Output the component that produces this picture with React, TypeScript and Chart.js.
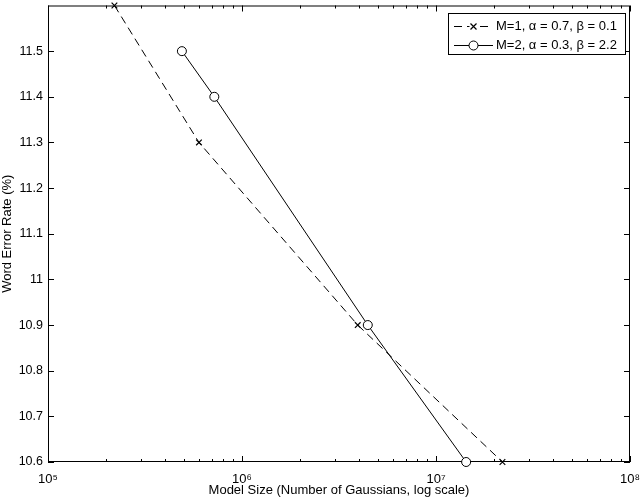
import React, { useEffect, useRef } from 'react';
import { Chart, registerables } from 'chart.js';

Chart.register(...registerables);

const seriesLabels = ['M=1, α = 0.7, β = 0.1', 'M=2, α = 0.3, β = 2.2'];
const m1Sizes = [2.2e5, 6.0e5, 3.95e6, 2.2e7];
const m1Wer = [11.6, 11.3, 10.9, 10.6];
const m2Sizes = [4.9e5, 7.2e5, 4.45e6, 1.43e7];
const m2Wer = [11.5, 11.4, 10.9, 10.6];
const xMajorTicks = [1e5, 1e6, 1e7, 1e8];
const xTickLabels = ['10⁵', '10⁶', '10⁷', '10⁸'];
const yTicks = [10.6, 10.7, 10.8, 10.9, 11.0, 11.1, 11.2, 11.3, 11.4, 11.5];
const yTickLabels = ['10.6', '10.7', '10.8', '10.9', '11', '11.1', '11.2', '11.3', '11.4', '11.5'];
const xTitle = 'Model Size (Number of Gaussians, log scale)';
const yTitle = 'Word Error Rate (%)';
const FONT = '"Liberation Sans", Arial, Helvetica, sans-serif';

const framePlugin = {
  id: 'frame',
  beforeDatasetsDraw(chart: any) {
    const { ctx, chartArea: a, scales } = chart;
    ctx.save();
    ctx.strokeStyle = '#000';
    ctx.lineWidth = 1;
    ctx.setLineDash([]);
    ctx.strokeRect(a.left + 0.5, a.top + 0.5, a.right - a.left - 1, a.bottom - a.top - 1);
    const seg = (x1: number, y1: number, x2: number, y2: number) => {
      ctx.beginPath();
      ctx.moveTo(x1, y1);
      ctx.lineTo(x2, y2);
      ctx.stroke();
    };
    const xs = scales.x;
    const xTick = (v: number, len: number) => {
      const px = Math.round(xs.getPixelForValue(v)) + 0.5;
      seg(px, a.bottom, px, a.bottom - len);
      seg(px, a.top, px, a.top + len);
    };
    xMajorTicks.forEach((v) => xTick(v, 6));
    for (let i = 0; i < xMajorTicks.length - 1; i++) {
      for (let k = 2; k <= 9; k++) xTick(xMajorTicks[i] * k, 3);
    }
    const ys = scales.y;
    yTicks.forEach((v) => {
      const py = Math.round(ys.getPixelForValue(v)) + 0.5;
      seg(a.left, py, a.left + 6, py);
      seg(a.right, py, a.right - 6, py);
    });
    ctx.restore();
  },
};

const legendPlugin = {
  id: 'boxLegend',
  afterDraw(chart: any) {
    const { ctx, chartArea: a } = chart;
    const bw = 177;
    const bh = 41;
    const bx = a.right - 5 - bw;
    const by = a.top + 7;
    ctx.save();
    ctx.fillStyle = '#fff';
    ctx.fillRect(bx, by, bw, bh);
    ctx.strokeStyle = '#000';
    ctx.lineWidth = 1;
    ctx.strokeRect(Math.round(bx) + 0.5, Math.round(by) + 0.5, bw, bh);
    chart.data.datasets.forEach((ds: any, i: number) => {
      const cy = Math.round(by + 13 + i * 19) + 0.5;
      const x0 = bx + 6;
      const x1 = bx + 45;
      ctx.setLineDash(ds.borderDash || []);
      ctx.strokeStyle = '#000';
      ctx.lineWidth = 1;
      ctx.beginPath();
      ctx.moveTo(x0, cy);
      ctx.lineTo(x1, cy);
      ctx.stroke();
      ctx.setLineDash([]);
      const mx = (x0 + x1) / 2;
      if (ds.pointStyle === 'crossRot') {
        const r = 3;
        ctx.fillStyle = '#fff';
        ctx.fillRect(mx - 4, cy - 4, 8, 8);
        ctx.lineWidth = 1.2;
        ctx.beginPath();
        ctx.moveTo(mx - r, cy - r);
        ctx.lineTo(mx + r, cy + r);
        ctx.moveTo(mx - r, cy + r);
        ctx.lineTo(mx + r, cy - r);
        ctx.stroke();
      } else {
        ctx.fillStyle = '#fff';
        ctx.beginPath();
        ctx.arc(mx, cy, 4.5, 0, Math.PI * 2);
        ctx.fill();
        ctx.stroke();
      }
      ctx.fillStyle = '#000';
      ctx.font = `13px ${FONT}`;
      ctx.textBaseline = 'middle';
      ctx.textAlign = 'left';
      ctx.fillText(ds.label, x1 + 3, cy);
    });
    ctx.restore();
  },
};

export default function App() {
  const ref = useRef<HTMLCanvasElement | null>(null);
  useEffect(() => {
    if (!ref.current) return;
    const chart = new Chart(ref.current, {
      type: 'line',
      data: {
        datasets: [
          {
            label: seriesLabels[0],
            data: m1Sizes.map((x, i) => ({ x, y: m1Wer[i] })),
            borderColor: '#000',
            borderWidth: 1,
            borderDash: [8, 5],
            pointStyle: 'crossRot',
            pointRadius: 4,
            pointBorderWidth: 1.2,
            pointBorderColor: '#000',
            pointBackgroundColor: '#000',
            tension: 0,
            clip: false,
          } as any,
          {
            label: seriesLabels[1],
            data: m2Sizes.map((x, i) => ({ x, y: m2Wer[i] })),
            borderColor: '#000',
            borderWidth: 1,
            pointStyle: 'circle',
            pointRadius: 4.5,
            pointBorderWidth: 1,
            pointBorderColor: '#000',
            pointBackgroundColor: '#fff',
            tension: 0,
            clip: false,
          } as any,
        ],
      },
      options: {
        animation: false,
        responsive: false,
        events: [],
        layout: { padding: { top: 3, right: 10, left: 0, bottom: 0 } },
        plugins: {
          legend: { display: false },
          tooltip: { enabled: false },
        },
        scales: {
          x: {
            type: 'logarithmic',
            min: 1e5,
            max: 1e8,
            grid: { display: false, drawTicks: false },
            border: { display: false },
            afterBuildTicks: (s: any) => {
              s.ticks = xMajorTicks.map((v) => ({ value: v }));
            },
            afterFit: (s: any) => {
              s.height = 38;
              s.paddingLeft = 0;
              s.paddingRight = 0;
            },
            ticks: {
              autoSkip: false,
              maxRotation: 0,
              padding: 10,
              color: '#000',
              font: { family: FONT, size: 13 },
              callback: (_v: any, i: number) => xTickLabels[i],
            },
            title: {
              display: true,
              text: xTitle,
              color: '#000',
              font: { family: FONT, size: 13 },
              padding: { top: 0, bottom: 2 },
            },
          },
          y: {
            type: 'linear',
            min: 10.6,
            max: 11.6,
            grid: { display: false, drawTicks: false },
            border: { display: false },
            afterBuildTicks: (s: any) => {
              s.ticks = yTicks.map((v) => ({ value: v }));
            },
            afterFit: (s: any) => {
              s.width = 48;
              s.paddingTop = 0;
              s.paddingBottom = 0;
            },
            ticks: {
              autoSkip: false,
              padding: 5,
              color: '#000',
              font: { family: FONT, size: 12.5 },
              callback: (_v: any, i: number) => yTickLabels[i],
            },
            title: {
              display: true,
              text: yTitle,
              color: '#000',
              font: { family: FONT, size: 13 },
              padding: { top: 0, bottom: 0 },
            },
          },
        },
      },
      plugins: [framePlugin, legendPlugin],
    });
    return () => chart.destroy();
  }, []);
  return (
    <div style={{ position: 'absolute', left: 0, top: 0, width: 640, height: 500, background: '#fff' }}>
      <canvas ref={ref} width={640} height={500} style={{ display: 'block' }} />
    </div>
  );
}
